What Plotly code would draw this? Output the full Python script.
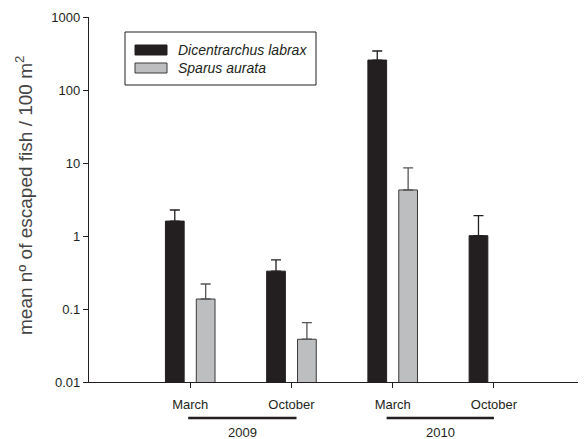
import plotly.graph_objects as go

# ---- data ----
tick_labels = ["March", "October", "March", "October"]
years = ["2009", "2010"]
series_names = ["Dicentrarchus labrax", "Sparus aurata"]
dicentrarchus = [1.6, 0.33, 257, 1.01]
dicentrarchus_err_top = [2.27, 0.47, 342, 1.9]
sparus = [0.137, 0.0385, 4.27, None]
sparus_err_top = [0.22, 0.065, 8.6, None]
y_ticks = [0.01, 0.1, 1, 10, 100, 1000]
y_ticklabels = ["0.01", "0.1", "1", "10", "100", "1000"]

xpos = list(range(len(tick_labels)))
FONT = "Arial, Liberation Sans, sans-serif"
DARK = "#231f20"
LIGHT = "#bcbec0"


def plus(vals, tops):
    return [(t - v) if (v is not None and t is not None) else None for v, t in zip(vals, tops)]


fig = go.Figure()
fig.add_trace(go.Bar(
    x=xpos, y=dicentrarchus, name=series_names[0],
    width=0.185, offset=-0.245,
    marker=dict(color=DARK, line=dict(color="#231f20", width=1)),
    error_y=dict(type="data", symmetric=False,
                 array=plus(dicentrarchus, dicentrarchus_err_top),
                 arrayminus=[0] * 4, color="#231f20", thickness=1.3, width=5),
    showlegend=False,
))
fig.add_trace(go.Bar(
    x=xpos, y=sparus, name=series_names[1],
    width=0.185, offset=0.06,
    marker=dict(color=LIGHT, line=dict(color="#3a3a3a", width=1)),
    error_y=dict(type="data", symmetric=False,
                 array=plus(sparus, sparus_err_top),
                 arrayminus=[0] * 4, color="#555555", thickness=1.3, width=5),
    showlegend=False,
))

# page offset of 8px (body margin); plot-area pixel geometry in window: x 89..583, y 17..382
OFF = 8
W, H = 494.0, 365.0


def px_x(p):
    return (p - 89) / W


def px_y(p):
    return (382 - p) / H


shapes = []
annotations = []

# manual legend
shapes.append(dict(type="rect", xref="paper", yref="paper",
                   x0=px_x(125), x1=px_x(316), y0=px_y(85), y1=px_y(32),
                   line=dict(color="#231f20", width=1), fillcolor="white"))
legend_rows = [(50, DARK, DARK), (68, LIGHT, "#3a3a3a")]
for (cy, fc, lc), name in zip(legend_rows, series_names):
    shapes.append(dict(type="rect", xref="paper", yref="paper",
                       x0=px_x(135), x1=px_x(167), y0=px_y(cy + 5), y1=px_y(cy - 5),
                       line=dict(color=lc, width=1), fillcolor=fc))
    annotations.append(dict(xref="paper", yref="paper", x=px_x(176), y=px_y(cy),
                            xanchor="left", yanchor="middle", showarrow=False,
                            text="<i>%s</i>" % name,
                            font=dict(family=FONT, size=14, color="#231f20")))

# year lines and labels
year_spans = [(-0.02, 1.05), (1.94, 3.0)]
for (a, b), yr in zip(year_spans, years):
    shapes.append(dict(type="line", xref="x", yref="paper", x0=a, x1=b,
                       y0=px_y(418), y1=px_y(418),
                       line=dict(color="#231f20", width=2.5)))
    annotations.append(dict(xref="x", yref="paper", x=(a + b) / 2, y=px_y(432),
                            xanchor="center", yanchor="middle", showarrow=False,
                            text=yr, font=dict(family=FONT, size=13, color="#231f20")))

# y-axis title
annotations.append(dict(xref="paper", yref="paper", x=px_x(24), y=px_y(196),
                        xanchor="center", yanchor="middle", showarrow=False,
                        textangle=-90,
                        text="mean nº of escaped fish / 100 m<sup>2</sup>",
                        font=dict(family=FONT, size=19, color="#444444")))

fig.update_layout(
    width=586 - OFF, height=439 - OFF,
    margin=dict(l=89 - OFF, r=3, t=17 - OFF, b=57),
    paper_bgcolor="white", plot_bgcolor="white",
    barmode="overlay",
    shapes=shapes, annotations=annotations,
    font=dict(family=FONT, size=13, color="#231f20"),
    xaxis=dict(range=[-1, 3.88], tickvals=xpos, ticktext=tick_labels,
               showgrid=False, zeroline=False, showline=True,
               linecolor="#231f20", linewidth=1.3,
               ticks="outside", ticklen=5, tickcolor="#231f20", tickwidth=1,
               ticklabelstandoff=5,
               tickfont=dict(family=FONT, size=13, color="#231f20")),
    yaxis=dict(type="log", range=[-2, 3], tickvals=y_ticks, ticktext=y_ticklabels,
               showgrid=False, zeroline=False, showline=True,
               linecolor="#231f20", linewidth=1.3,
               ticks="outside", ticklen=5, tickcolor="#231f20", tickwidth=1,
               tickfont=dict(family=FONT, size=13, color="#231f20")),
)

fig.write_html("out.html")
